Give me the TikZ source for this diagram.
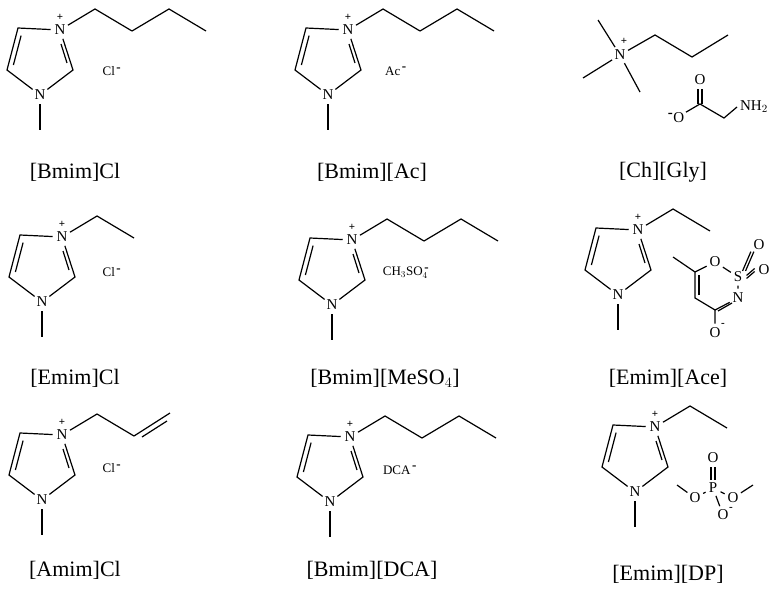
\documentclass[tikz,border=0pt]{standalone}
\usepackage{fontspec}
\setmainfont{Liberation Serif}
\begin{document}
\begin{tikzpicture}[x=1pt,y=-1pt,line width=1.2pt,
 atom/.style={font=\fontsize{15}{16}\selectfont,inner sep=1pt,circle},
 ion/.style={font=\fontsize{13}{14}\selectfont,inner sep=1pt},
 lbl/.style={font=\fontsize{22}{24}\selectfont,inner sep=0pt},
 chg/.style={font=\fontsize{11}{11}\selectfont\bfseries,inner sep=0pt}]
\useasboundingbox (0,0) rectangle (773,591);
\newcommand\imring[3]{%
\begin{scope}[shift={(#1,#2)}]
\node[atom] (Np) at (0,0) {N};
\node[chg] (pl) at (0,-13) {+};
\coordinate (c4) at (-42,-2); \coordinate (c5) at (-53,40);
\node[atom] (N1) at (-20,65) {N};
\coordinate (c2) at (13,40); \coordinate (me) at (-20,100);
\draw (Np)--(c4)--(c5)--(N1)--(c2)--(Np); \draw (N1)--(me);
\draw (-38.9,5.6)--(-46.6,35); \draw (1,14)--(7,33);
\coordinate (a1) at (35,-21); \coordinate (a2) at (72,1);
\draw (Np)--(a1)--(a2);
\ifnum#3=1 \coordinate (a3) at (109,-21); \coordinate (a4) at (146,1); \draw (a2)--(a3)--(a4);\fi
\ifnum#3=2 \coordinate (a3) at (108,-22); \draw (a2)--(a3); \draw (80,2)--(105,-14);\fi
\end{scope}}
% row 1
\imring{60}{30}{1} \node[ion] (x1) at (112,71) {Cl$^{\,\textbf{-}}$};
\imring{348}{30}{1} \node[ion] (x2) at (396,71) {Ac$^{\,\textbf{-}}$};
% Ch
\node[atom] (NC) at (620,55) {N}; \node[chg] (pc) at (624,41) {+};
\coordinate (m1) at (598,20); \coordinate (m2) at (583,78); \coordinate (m3) at (640,92);
\coordinate (b1) at (655,35); \coordinate (b2) at (692,57); \coordinate (b3) at (728,35);
\draw (NC)--(m1); \draw (NC)--(m2); \draw (NC)--(m3); \draw (NC)--(b1)--(b2)--(b3);
\node[atom] (Om) at (676,118) {$^{\textbf{-}}$O};
\coordinate (gc) at (700,104); \node[atom] (Od) at (700,80) {O};
\coordinate (gh) at (724,118); \node[atom,anchor=west] (NH) at (737,107) {NH$_2$};
\draw (Om)--(gc)--(gh)--(NH.west); \draw ([xshift=-2]gc)--([xshift=-2]Od.south); \draw ([xshift=2]gc)--([xshift=2]Od.south);
% row 2
\imring{62}{237}{0} \node[ion] (x3) at (112,272) {Cl$^{\,\textbf{-}}$};
\imring{352}{240}{1} \node[ion] (x4) at (406,273) {CH$_3$SO$_4^{\,\textbf{-}}$};
\imring{638}{230}{0}
\node[atom] (Or) at (715,262) {O}; \node[atom] (S) at (738,277) {S};
\node[atom] (Os1) at (759,245) {O}; \node[atom] (Os2) at (764,270) {O};
\node[atom] (NA) at (738,298) {N}; \coordinate (k1) at (715,310);
\node[atom] (OA) at (715,333) {O}; \node[chg] (om2) at (723,325) {-};
\coordinate (k2) at (695,298); \coordinate (k3) at (695,272); \coordinate (k4) at (673,257);
\draw (k3)--(Or)--(S)--(NA); \draw (NA)--(k1)--(OA); \draw (k1)--(k2)--(k3)--(k4);
\draw (699,295)--(699,275); \draw (718,311)--(732,303);
\draw ([xshift=-1.5]S.north east)--([xshift=-1.5]Os1.south west); \draw ([xshift=1.5]S.north east)--([xshift=1.5]Os1.south west);
\draw ([yshift=-1.5]S.east)--([yshift=-1.5]Os2.west); \draw ([yshift=1.5]S.east)--([yshift=1.5]Os2.west);
% row 3
\imring{62}{435}{2}
\node[ion] (x5) at (112,468) {Cl$^{\,\textbf{-}}$};
\imring{350}{437}{1} \node[ion] (x6) at (400,470) {DCA$^{\,\textbf{-}}$};
\imring{655}{427}{0}
\node[atom] (P) at (713,488) {P}; \node[atom] (OP) at (713,458) {O};
\node[atom] (OL) at (695,498) {O}; \node[atom] (OR) at (733,498) {O};
\node[atom] (OM) at (723,515) {O}; \node[chg] (om3) at (731,509) {-};
\coordinate (ml) at (677,485); \coordinate (mr) at (753,485);
\draw (ml)--(OL)--(P)--(OR)--(mr); \draw (P)--(OM);
\draw ([xshift=-2]P.north)--([xshift=-2]OP.south); \draw ([xshift=2]P.north)--([xshift=2]OP.south);
% labels
\node[lbl] (L1) at (75,172) {[Bmim]Cl};
\node[lbl] (L2) at (372,172) {[Bmim][Ac]};
\node[lbl] (L3) at (663,172) {[Ch][Gly]};
\node[lbl] (L4) at (75,378) {[Emim]Cl};
\node[lbl] (L5) at (385,378) {[Bmim][MeSO$_4$]};
\node[lbl] (L6) at (668,378) {[Emim][Ace]};
\node[lbl] (L7) at (75,570) {[Amim]Cl};
\node[lbl] (L8) at (372,570) {[Bmim][DCA]};
\node[lbl] (L9) at (668,574) {[Emim][DP]};
\end{tikzpicture}
\end{document}
